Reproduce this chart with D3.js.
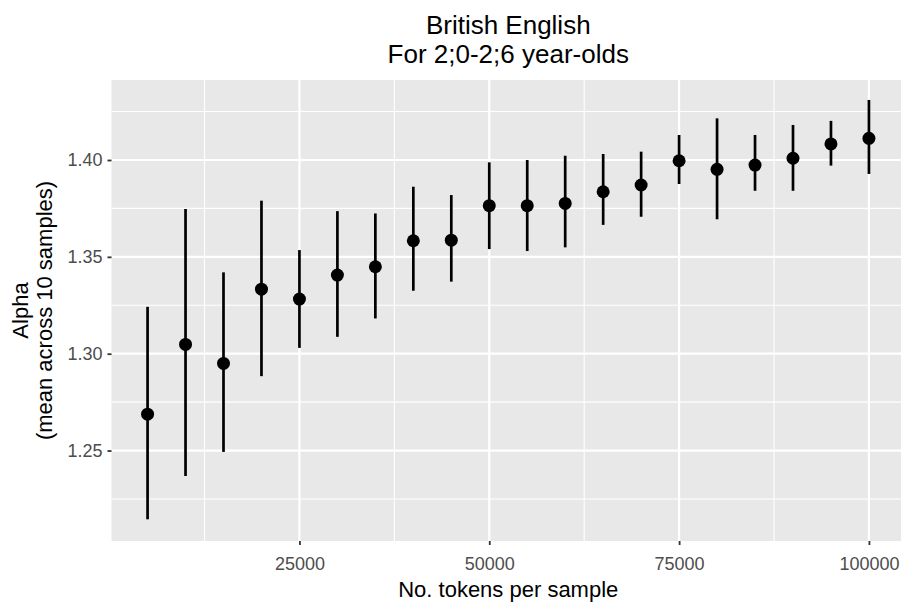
<!DOCTYPE html>
<html>
<head>
<meta charset="utf-8">
<script src="https://cdn.jsdelivr.net/npm/d3@7"></script>
<style>
  html, body { margin: 0; padding: 0; background: #ffffff; }
  svg { display: block; font-family: "Liberation Sans", Arial, sans-serif; }
</style>
</head>
<body>
<svg id="chart" width="901" height="602"></svg>
<script>
// ---- data ----
const tokens = [5000, 10000, 15000, 20000, 25000, 30000, 35000, 40000, 45000, 50000,
                55000, 60000, 65000, 70000, 75000, 80000, 85000, 90000, 95000, 100000];
const alphaMean  = [1.2688, 1.3048, 1.2950, 1.3333, 1.3282, 1.3406, 1.3449, 1.3583, 1.3586, 1.3764,
                    1.3764, 1.3776, 1.3836, 1.3871, 1.3996, 1.3952, 1.3974, 1.4009, 1.4083, 1.4112];
const alphaLower = [1.2145, 1.2369, 1.2493, 1.2884, 1.3030, 1.3087, 1.3182, 1.3325, 1.3372, 1.3540,
                    1.3530, 1.3549, 1.3665, 1.3707, 1.3876, 1.3694, 1.3841, 1.3841, 1.3971, 1.3928];
const alphaUpper = [1.3242, 1.3747, 1.3420, 1.3790, 1.3535, 1.3736, 1.3724, 1.3862, 1.3819, 1.3988,
                    1.4000, 1.4022, 1.4031, 1.4043, 1.4129, 1.4215, 1.4129, 1.4181, 1.4202, 1.4310];
const xTicks = [25000, 50000, 75000, 100000];
const xMinor = [12500, 37500, 62500, 87500];
const yTicks = [1.25, 1.30, 1.35, 1.40];
const yMinor = [1.225, 1.275, 1.325, 1.375, 1.425];
const titleLines = ["British English", "For 2;0-2;6 year-olds"];
const xTitle = "No. tokens per sample";
const yTitleLines = ["Alpha", "(mean across 10 samples)"];

const rows = tokens.map((t, i) => ({ t, m: alphaMean[i], lo: alphaLower[i], hi: alphaUpper[i] }));

// ---- layout ----
const svg = d3.select("#chart");
const panel = { left: 111.5, right: 905, top: 80, bottom: 541 };

const x = d3.scaleLinear().domain([250, 104750]).range([panel.left, panel.right]);
const y = d3.scaleLinear().domain([1.2033, 1.4413]).range([panel.bottom, panel.top]);

// panel background
svg.append("rect")
  .attr("x", panel.left).attr("y", panel.top)
  .attr("width", panel.right - panel.left).attr("height", panel.bottom - panel.top)
  .attr("fill", "#e8e8e8");

const grid = svg.append("g");
// minor grid
grid.selectAll("line.ymin").data(yMinor).join("line")
  .attr("x1", panel.left).attr("x2", panel.right)
  .attr("y1", d => y(d)).attr("y2", d => y(d))
  .attr("stroke", "#ffffff").attr("stroke-width", 1.1);
grid.selectAll("line.xmin").data(xMinor).join("line")
  .attr("y1", panel.top).attr("y2", panel.bottom)
  .attr("x1", d => x(d)).attr("x2", d => x(d))
  .attr("stroke", "#ffffff").attr("stroke-width", 1.1);
// major grid
grid.selectAll("line.ymaj").data(yTicks).join("line")
  .attr("x1", panel.left).attr("x2", panel.right)
  .attr("y1", d => y(d)).attr("y2", d => y(d))
  .attr("stroke", "#ffffff").attr("stroke-width", 2.2);
grid.selectAll("line.xmaj").data(xTicks).join("line")
  .attr("y1", panel.top).attr("y2", panel.bottom)
  .attr("x1", d => x(d)).attr("x2", d => x(d))
  .attr("stroke", "#ffffff").attr("stroke-width", 2.2);

// axes
const xAxis = svg.append("g")
  .attr("transform", `translate(0,${panel.bottom})`)
  .call(d3.axisBottom(x).tickValues(xTicks).tickFormat(d3.format("d")).tickSize(4).tickPadding(12));
const yAxis = svg.append("g")
  .attr("transform", `translate(${panel.left},0)`)
  .call(d3.axisLeft(y).tickValues(yTicks).tickFormat(d3.format(".2f")).tickSize(4).tickPadding(5));
[xAxis, yAxis].forEach(a => {
  a.select(".domain").remove();
  a.selectAll(".tick line").attr("stroke", "#333333").attr("stroke-width", 1.8);
  a.selectAll(".tick text").attr("fill", "#4d4d4d").attr("font-size", 18)
    .attr("font-family", "\"Liberation Sans\", Arial, sans-serif");
});

// point ranges
const marks = svg.append("g");
marks.selectAll("line.range").data(rows).join("line")
  .attr("x1", d => x(d.t)).attr("x2", d => x(d.t))
  .attr("y1", d => y(d.lo)).attr("y2", d => y(d.hi))
  .attr("stroke", "#000000").attr("stroke-width", 2.7);
marks.selectAll("circle").data(rows).join("circle")
  .attr("cx", d => x(d.t)).attr("cy", d => y(d.m))
  .attr("r", 6.5).attr("fill", "#000000");

// title
const cx = (panel.left + panel.right) / 2;
svg.append("text")
  .attr("text-anchor", "middle").attr("font-size", 26).attr("fill", "#000")
  .selectAll("tspan").data(titleLines).join("tspan")
  .attr("x", cx).attr("y", (d, i) => 34 + i * 29).text(d => d);

// x title
svg.append("text")
  .attr("x", cx).attr("y", 597).attr("text-anchor", "middle")
  .attr("font-size", 22).attr("fill", "#000").text(xTitle);

// y title
const cy = (panel.top + panel.bottom) / 2;
svg.append("text")
  .attr("text-anchor", "middle").attr("font-size", 22).attr("fill", "#000")
  .attr("transform", `translate(0,${cy}) rotate(-90)`)
  .selectAll("tspan").data(yTitleLines).join("tspan")
  .attr("x", 0).attr("y", (d, i) => 28 + i * 24).text(d => d);
</script>
</body>
</html>
